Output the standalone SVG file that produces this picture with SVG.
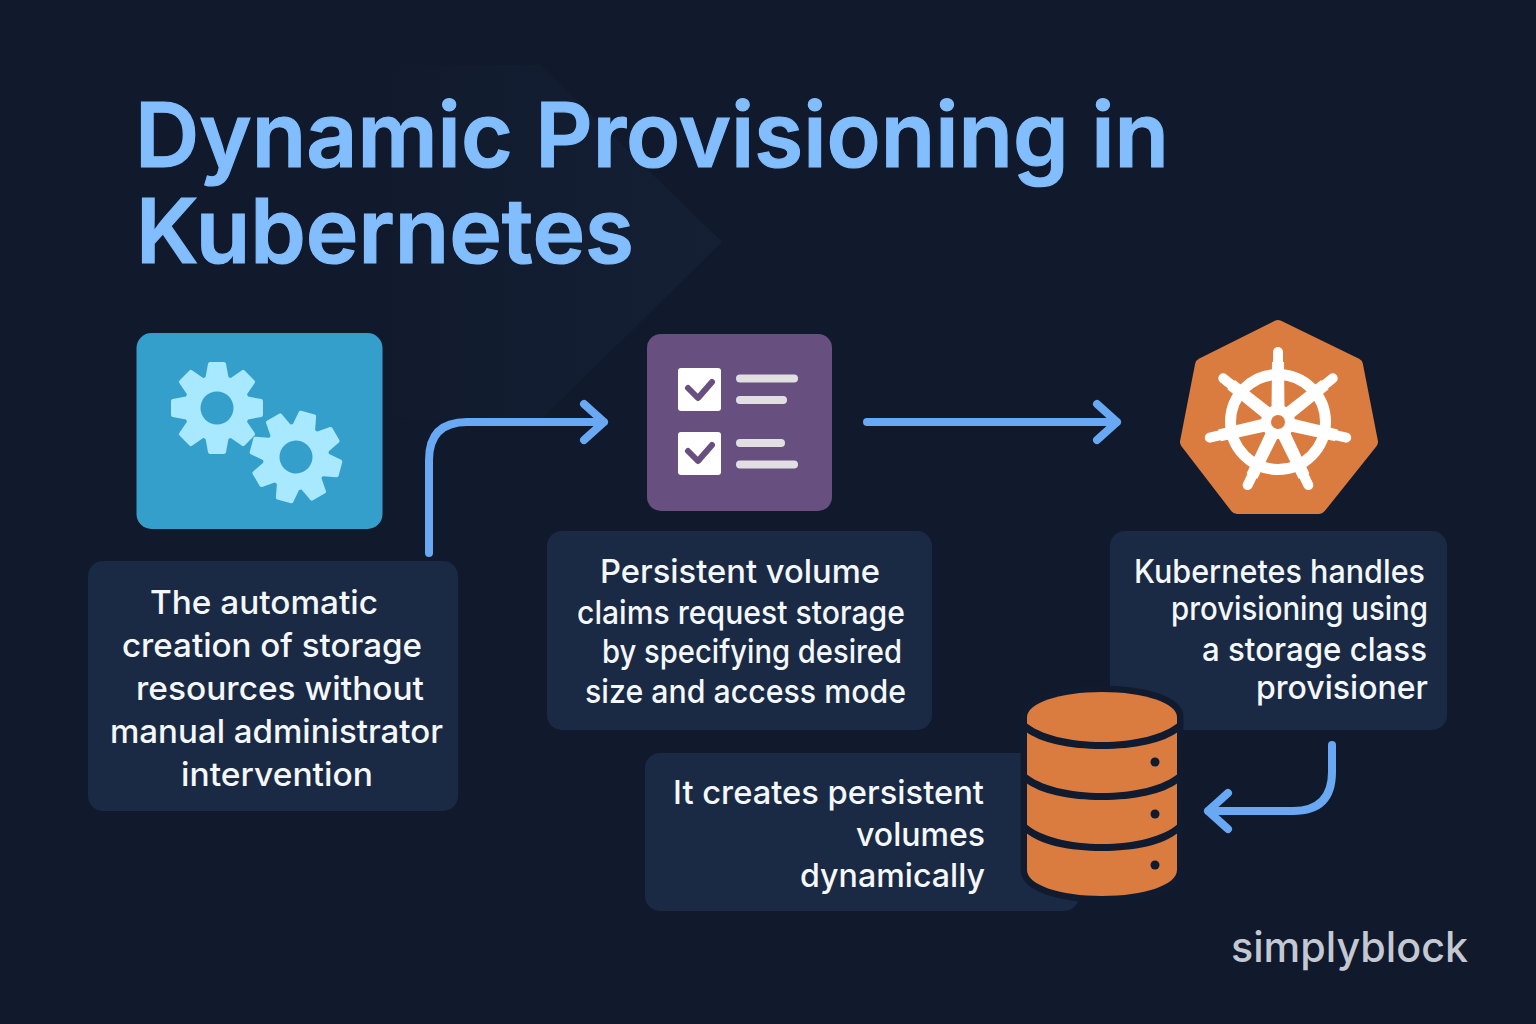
<svg xmlns="http://www.w3.org/2000/svg" xmlns:xlink="http://www.w3.org/1999/xlink" width="1536" height="1024" viewBox="0 0 1536 1024">
<style>
.t{font-family:Inter,"Noto Sans",sans-serif;font-size:33px;font-weight:500;fill:#f4f7fb}
.b{fill:#1a2a44}
.c{fill:none;stroke:#69a8f2;stroke-width:8;stroke-linecap:round;stroke-linejoin:round}
.title{font-family:Inter,"Noto Sans",sans-serif;font-size:90px;font-weight:600;fill:#82bdfd;stroke:#82bdfd;stroke-width:1.2}
.disk{fill:#da7c3f}
.seam{fill:#101b30}
.li{fill:#e2dfe3}
</style>
<defs>
<linearGradient id="fade" x1="0" x2="1" y1="0" y2="0"><stop offset="0" stop-color="#1a2940" stop-opacity="0"/><stop offset="1" stop-color="#1a2940" stop-opacity=".38"/></linearGradient>
<g id="gear"><circle r="33" fill="#a9e9ff"/>
<path id="tooth" d="M-10,-28L-7,-44H7L10,-28Z" fill="#a9e9ff" stroke="#a9e9ff" stroke-width="4" stroke-linejoin="round"/>
<use xlink:href="#tooth" transform="rotate(45)"/><use xlink:href="#tooth" transform="rotate(90)"/><use xlink:href="#tooth" transform="rotate(135)"/><use xlink:href="#tooth" transform="rotate(180)"/><use xlink:href="#tooth" transform="rotate(225)"/><use xlink:href="#tooth" transform="rotate(270)"/><use xlink:href="#tooth" transform="rotate(315)"/>
<circle r="16.5" fill="#339fca"/></g>
<g id="spoke"><path d="M-6.500,-12 L-6,-60 L6,-60 L6.500,-12Z" fill="#fff"/><path d="M0,-48V-70" stroke="#fff" stroke-width="10" stroke-linecap="round"/></g>
</defs>
<rect width="1536" height="1024" fill="#111a2d"/>
<path d="M540,65L722,242L540,420L380,420L380,65Z" fill="url(#fade)"/>
<g id="title"><text class="title" x="135" y="166.500" textLength="1034" lengthAdjust="spacingAndGlyphs">Dynamic Provisioning in</text><text class="title" x="136" y="263" textLength="498" lengthAdjust="spacingAndGlyphs">Kubernetes</text></g>
<g id="node-gears"><rect x="136.500" y="333" width="246" height="196" rx="15" fill="#339fca"/>
<use xlink:href="#gear" transform="translate(217,408)"/><use xlink:href="#gear" transform="translate(296,457) rotate(15)"/></g>
<g id="node-checklist"><rect x="647" y="334" width="185" height="177" rx="14" fill="#675080"/>
<rect x="678" y="368" width="43" height="43" rx="3" fill="#fff"/><rect x="678" y="432" width="43" height="43" rx="3" fill="#fff"/>
<path d="M688,388L698,398L712,382M688,451L698,461L712,445" fill="none" stroke="#675080" stroke-width="6" stroke-linecap="round" stroke-linejoin="round"/>
<rect class="li" x="736" y="374.500" width="62" height="8" rx="4"/><rect class="li" x="736" y="396" width="51" height="8" rx="4"/><rect class="li" x="736" y="439" width="49" height="8" rx="4"/><rect class="li" x="736" y="460.500" width="62" height="8" rx="4"/></g>
<g id="node-kubernetes"><path d="M1278,327L1356,365L1371,442L1319,507L1237,507L1187,442L1202,365Z" fill="#da7c3f" stroke="#da7c3f" stroke-width="14" stroke-linejoin="round"/>
<circle cx="1278" cy="422" r="47.500" fill="none" stroke="#fff" stroke-width="11"/><circle cx="1278" cy="422" r="17" fill="#fff"/>
<g transform="translate(1278,422)"><use xlink:href="#spoke"/><use xlink:href="#spoke" transform="rotate(51.400)"/><use xlink:href="#spoke" transform="rotate(102.900)"/><use xlink:href="#spoke" transform="rotate(154.300)"/><use xlink:href="#spoke" transform="rotate(205.700)"/><use xlink:href="#spoke" transform="rotate(257.100)"/><use xlink:href="#spoke" transform="rotate(308.600)"/></g>
<circle cx="1278" cy="422" r="7" fill="#da7c3f"/></g>
<g id="node-text1"><rect class="b" x="88" y="561" width="370" height="250" rx="15"/>
<text class="t" x="150" y="614" textLength="228" lengthAdjust="spacingAndGlyphs">The automatic</text><text class="t" x="122" y="657" textLength="300" lengthAdjust="spacingAndGlyphs">creation of storage</text><text class="t" x="136" y="700" textLength="288" lengthAdjust="spacingAndGlyphs">resources without</text><text class="t" x="110" y="743" textLength="333" lengthAdjust="spacingAndGlyphs">manual administrator</text><text class="t" x="181" y="786" textLength="192" lengthAdjust="spacingAndGlyphs">intervention</text></g>
<g id="node-text2"><rect class="b" x="547" y="531" width="385" height="199" rx="15"/>
<text class="t" x="600" y="583" textLength="280" lengthAdjust="spacingAndGlyphs">Persistent volume</text><text class="t" x="577" y="624" textLength="328" lengthAdjust="spacingAndGlyphs">claims request storage</text><text class="t" x="602" y="663" textLength="300" lengthAdjust="spacingAndGlyphs">by specifying desired</text><text class="t" x="585" y="703" textLength="321" lengthAdjust="spacingAndGlyphs">size and access mode</text></g>
<g id="node-text3"><rect class="b" x="1110" y="531" width="337" height="199" rx="15"/>
<text class="t" x="1134" y="583" textLength="291" lengthAdjust="spacingAndGlyphs">Kubernetes handles</text><text class="t" x="1171" y="620" textLength="257" lengthAdjust="spacingAndGlyphs">provisioning using</text><text class="t" x="1202" y="661" textLength="225" lengthAdjust="spacingAndGlyphs">a storage class</text><text class="t" x="1256" y="699" textLength="172" lengthAdjust="spacingAndGlyphs">provisioner</text></g>
<g id="node-text4"><rect class="b" x="645" y="753" width="434" height="158" rx="15"/>
<text class="t" x="673" y="804" textLength="311" lengthAdjust="spacingAndGlyphs">It creates persistent</text><text class="t" x="856" y="846" textLength="129" lengthAdjust="spacingAndGlyphs">volumes</text><text class="t" x="800" y="887" textLength="185" lengthAdjust="spacingAndGlyphs">dynamically</text></g>
<g id="node-database"><path d="M1027,717C1027,703 1060,692 1102,692C1144,692 1177,703 1177,717V870C1177,885 1144,896 1102,896C1060,896 1027,885 1027,870Z" fill="#101b30" stroke="#101b30" stroke-width="13" stroke-linejoin="round"/>
<path class="disk" d="M1027,717C1027,703 1060,692 1102,692C1144,692 1177,703 1177,717V870C1177,885 1144,896 1102,896C1060,896 1027,885 1027,870Z"/>
<path class="seam" d="M1025,722C1040,735 1070,742 1102,742C1134,742 1164,735 1179,722V731C1164,743 1134,749 1102,749C1070,749 1040,743 1025,731Z"/>
<path class="seam" d="M1025,773C1040,786 1070,793 1102,793C1134,793 1164,786 1179,773V782C1164,794 1134,800 1102,800C1070,800 1040,794 1025,782Z"/>
<path class="seam" d="M1025,823C1040,837 1070,844 1102,844C1134,844 1164,837 1179,823V832C1164,845 1134,851 1102,851C1070,851 1040,845 1025,832Z"/>
<circle cx="1155" cy="762" r="4.500" fill="#101b30"/><circle cx="1155" cy="814" r="4.500" fill="#101b30"/><circle cx="1155" cy="865" r="4.500" fill="#101b30"/></g>
<g id="connectors"><path class="c" d="M429,553V460Q429,422 467,422H604M584,404L604,422L584,440"/>
<path class="c" d="M867,422H1117M1097,404L1117,422L1097,440"/>
<path class="c" d="M1332,745V772Q1332,811 1293,811H1208M1228,793L1208,811L1228,829"/></g>
<text id="brand" x="1231" y="962" textLength="237" lengthAdjust="spacingAndGlyphs" font-family="Inter,'Noto Sans',sans-serif" font-size="42" font-weight="500" fill="#c3c8d2">simplyblock</text>
</svg>
